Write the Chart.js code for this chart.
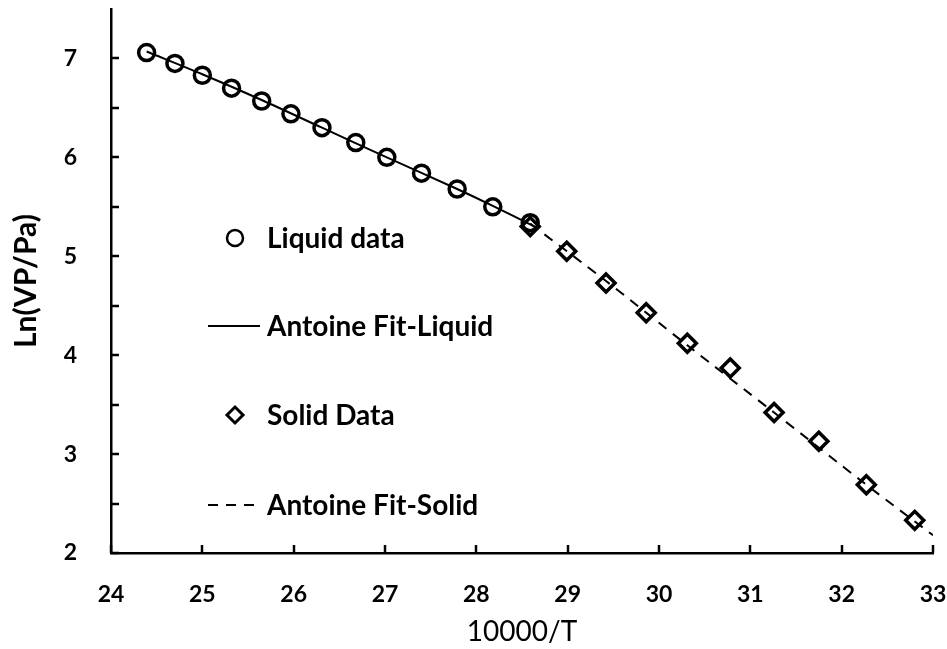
<!DOCTYPE html>
<html>
<head>
<meta charset="utf-8">
<script src="https://cdn.jsdelivr.net/npm/chart.js@4/dist/chart.umd.min.js"></script>
<style>
  html, body { margin: 0; padding: 0; background: #fff; }
  #wrap { width: 947px; height: 649px; }
</style>
</head>
<body>
<div id="wrap"><canvas id="vpChart"></canvas></div>
<script>
// Data
const liquidX = [24.39, 24.70, 25.00, 25.32, 25.65, 25.97, 26.31, 26.68, 27.02, 27.40, 27.79, 28.18, 28.59];
const liquidY = [7.06, 6.95, 6.83, 6.70, 6.57, 6.44, 6.30, 6.15, 6.00, 5.84, 5.68, 5.50, 5.34];
const solidX = [28.59, 28.99, 29.42, 29.86, 30.31, 30.78, 31.26, 31.75, 32.27, 32.80];
const solidY = [5.30, 5.05, 4.73, 4.43, 4.12, 3.87, 3.42, 3.13, 2.69, 2.33];
const fitLiquidX = [24.39, 25.00, 25.65, 26.31, 27.02, 27.79, 28.18, 28.66];
const fitLiquidY = [7.07, 6.84, 6.58, 6.30, 6.00, 5.68, 5.51, 5.29];
const fitSolidX = [28.59, 29.42, 30.31, 31.26, 32.27, 33.00];
const fitSolidY = [5.33, 4.75, 4.10, 3.42, 2.69, 2.18];
const xTicks = [24, 25, 26, 27, 28, 29, 30, 31, 32, 33];
const yTicks = [2, 3, 4, 5, 6, 7];
const yMinorTicks = [2.5, 3.5, 4.5, 5.5, 6.5];
const legendLabels = ['Liquid data', 'Antoine Fit-Liquid', 'Solid Data', 'Antoine Fit-Solid'];

const FONT = 'Lato, "Open Sans", sans-serif';

function toPoints(xs, ys) {
    return xs.map((x, i) => ({ x: x, y: ys[i] }));
}

// inward tick marks and the little legend inside the plot
const extrasPlugin = {
    id: 'extras',
    afterDraw(chart) {
        const ctx = chart.ctx;
        const xs = chart.scales.x, ys = chart.scales.y;
        const area = chart.chartArea;
        ctx.save();
        ctx.strokeStyle = '#000';
        ctx.lineWidth = 2.5;
        xTicks.forEach(v => {
            const px = Math.round(xs.getPixelForValue(v));
            ctx.beginPath();
            ctx.moveTo(px, area.bottom);
            ctx.lineTo(px, area.bottom - 8);
            ctx.stroke();
        });
        yTicks.concat(yMinorTicks).forEach(v => {
            const py = Math.round(ys.getPixelForValue(v));
            ctx.beginPath();
            ctx.moveTo(area.left, py);
            ctx.lineTo(area.left + 8, py);
            ctx.stroke();
        });

        // legend
        const lx = area.left + 124;
        const rows = [238, 326, 415, 505];
        ctx.font = 'bold 28px ' + FONT;
        ctx.fillStyle = '#000';
        ctx.textBaseline = 'middle';
        ctx.textAlign = 'left';
        rows.forEach((y, i) => ctx.fillText(legendLabels[i], lx + 32, y + 1));

        ctx.lineWidth = 2.5;
        ctx.beginPath();
        ctx.arc(lx, rows[0], 8, 0, Math.PI * 2);
        ctx.stroke();

        ctx.lineWidth = 2;
        ctx.beginPath();
        ctx.moveTo(lx - 27, rows[1]);
        ctx.lineTo(lx + 25, rows[1]);
        ctx.stroke();

        ctx.lineWidth = 3;
        ctx.beginPath();
        ctx.moveTo(lx, rows[2] - 8);
        ctx.lineTo(lx + 8, rows[2]);
        ctx.lineTo(lx, rows[2] + 8);
        ctx.lineTo(lx - 8, rows[2]);
        ctx.closePath();
        ctx.stroke();

        ctx.lineWidth = 2;
        ctx.setLineDash([10, 8]);
        ctx.beginPath();
        ctx.moveTo(lx - 27, rows[3]);
        ctx.lineTo(lx + 25, rows[3]);
        ctx.stroke();
        ctx.restore();
    }
};

const ctx = document.getElementById('vpChart').getContext('2d');
const vpChart = new Chart(ctx, {
    type: 'scatter',
    data: {
        datasets: [
            {
                label: 'Antoine Fit-Liquid',
                data: toPoints(fitLiquidX, fitLiquidY),
                showLine: true,
                borderColor: '#000',
                borderWidth: 2,
                pointRadius: 0,
                tension: 0.3
            },
            {
                label: 'Antoine Fit-Solid',
                data: toPoints(fitSolidX, fitSolidY),
                showLine: true,
                borderColor: '#000',
                borderWidth: 2,
                borderDash: [10, 8],
                pointRadius: 0,
                tension: 0.3
            },
            {
                label: 'Liquid data',
                data: toPoints(liquidX, liquidY),
                pointStyle: 'circle',
                pointRadius: 8,
                pointBorderWidth: 3.5,
                pointBorderColor: '#000',
                pointBackgroundColor: 'rgba(255,255,255,0)'
            },
            {
                label: 'Solid Data',
                data: toPoints(solidX, solidY),
                pointStyle: 'rectRot',
                pointRadius: 9,
                pointBorderWidth: 3.5,
                pointBorderColor: '#000',
                pointBackgroundColor: 'rgba(255,255,255,0)'
            }
        ]
    },
    options: {
        responsive: true,
        maintainAspectRatio: false,
        animation: false,
        layout: { autoPadding: false, padding: { top: 9, right: 14, left: 0, bottom: 0 } },
        plugins: {
            legend: { display: false },
            tooltip: { enabled: false }
        },
        scales: {
            x: {
                type: 'linear',
                min: 24,
                max: 33,
                afterBuildTicks: s => { s.ticks = xTicks.map(v => ({ value: v })); },
                afterFit: s => { s.height = 96; s.paddingLeft = 0; s.paddingRight = 0; },
                grid: { display: false },
                border: { display: true, color: '#000', width: 2.5 },
                ticks: {
                    color: '#000',
                    padding: 20,
                    maxRotation: 0,
                    font: { family: FONT, size: 23, weight: 'bold' }
                },
                title: {
                    display: true,
                    text: '10000/T',
                    color: '#000',
                    padding: { top: 0, bottom: 0 },
                    font: { family: FONT, size: 28, weight: 'normal' }
                }
            },
            y: {
                type: 'linear',
                min: 2,
                max: 7.5,
                afterBuildTicks: s => { s.ticks = yTicks.map(v => ({ value: v })); },
                afterFit: s => { s.width = 111; s.paddingTop = 0; s.paddingBottom = 0; },
                grid: { display: false },
                border: { display: true, color: '#000', width: 2.5 },
                ticks: {
                    color: '#000',
                    padding: 26,
                    font: { family: FONT, size: 23, weight: 'bold' }
                },
                title: {
                    display: true,
                    text: 'Ln(VP/Pa)',
                    color: '#000',
                    padding: { top: 8, bottom: 0 },
                    font: { family: FONT, size: 30, weight: 'bold' }
                }
            }
        }
    },
    plugins: [extrasPlugin]
});
</script>
</body>
</html>
